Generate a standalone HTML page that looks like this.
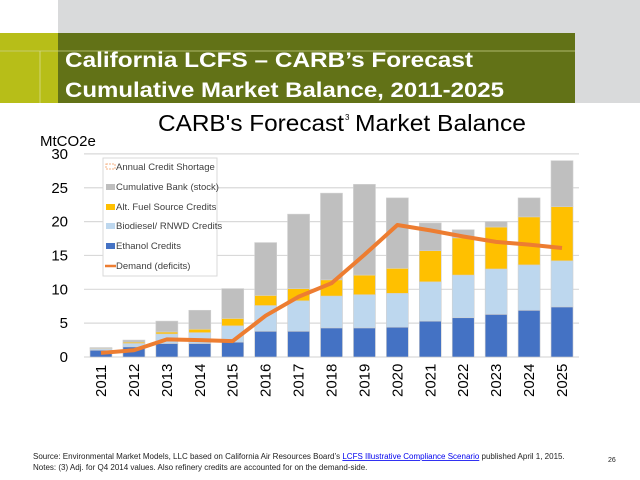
<!DOCTYPE html>
<html><head><meta charset="utf-8"><style>
html,body{margin:0;padding:0;background:#fff;}
svg{display:block;font-family:"Liberation Sans",Arial,sans-serif;}
</style></head><body>
<svg id="s" width="640" height="480" viewBox="0 0 640 480" xmlns="http://www.w3.org/2000/svg">
<rect x="58" y="0" width="582" height="33" fill="#d9dadb"/>
<rect x="575" y="33" width="65" height="70" fill="#d9dadb"/>
<rect x="0" y="33" width="58" height="70" fill="#b7be18"/>
<rect x="58" y="33" width="517" height="70" fill="#627217"/>
<line x1="0" y1="51" x2="575" y2="51" stroke="#c9d08a" stroke-width="0.8"/>
<line x1="40" y1="51" x2="40" y2="103" stroke="#d8dd90" stroke-width="0.8"/>
<text x="65" y="67" fill="#fff" font-size="21" font-weight="bold" textLength="408" lengthAdjust="spacingAndGlyphs">California LCFS –  CARB’s Forecast</text>
<text x="65" y="97" fill="#fff" font-size="21" font-weight="bold" textLength="439" lengthAdjust="spacingAndGlyphs">Cumulative Market Balance, 2011-2025</text>
<text x="158" y="131" font-size="23" fill="#000" textLength="186" lengthAdjust="spacingAndGlyphs">CARB's Forecast</text>
<text x="345" y="120" font-size="8" fill="#000">3</text>
<text x="355" y="131" font-size="23" fill="#000" textLength="171" lengthAdjust="spacingAndGlyphs">Market Balance</text>
<text x="40" y="146" font-size="15" fill="#000">MtCO2e</text>
<g id="grid"></g>
<g id="bars"></g>
<polyline id="dem" fill="none" stroke="#ed7d31" stroke-width="4" stroke-linejoin="round"/>
<g id="yl" font-size="15" fill="#000" text-anchor="end"></g>
<g id="xl" font-size="15" fill="#000"></g>
<rect x="103" y="158" width="114" height="118" fill="#fff" stroke="#d9d9d9" stroke-width="1"/>
<g font-size="9.5" fill="#404040">
<rect x="106" y="164" width="9" height="5" fill="none" stroke="#f4b183" stroke-dasharray="2,1"/>
<text x="116" y="170">Annual Credit Shortage</text>
<rect x="106" y="184" width="9" height="6" fill="#bfbfbf"/>
<text x="116" y="190">Cumulative Bank (stock)</text>
<rect x="106" y="204" width="9" height="6" fill="#ffc000"/>
<text x="116" y="210">Alt. Fuel Source Credits</text>
<rect x="106" y="223" width="9" height="6" fill="#bdd7ee"/>
<text x="116" y="229">Biodiesel/ RNWD Credits</text>
<rect x="106" y="243" width="9" height="6" fill="#4472c4"/>
<text x="116" y="249">Ethanol Credits</text>
<line x1="105" y1="266" x2="116" y2="266" stroke="#ed7d31" stroke-width="2.5"/>
<text x="116" y="269">Demand (deficits)</text>
</g>
<g font-size="8" fill="#222">
<text x="33" y="459">Source: Environmental Market Models, LLC based on California Air Resources Board’s <tspan fill="#0000ee" text-decoration="underline">LCFS Illustrative Compliance Scenario</tspan> published April 1, 2015.</text>
<text x="33" y="470">Notes: (3) Adj. for Q4 2014 values. Also refinery credits are accounted for on the demand-side.</text>
<text x="608" y="462" font-size="7">26</text>
</g>
</svg>
<script>
(function(){
var NS="http://www.w3.org/2000/svg";
function el(p,t,a,txt){var e=document.createElementNS(NS,t);for(var k in a)e.setAttribute(k,a[k]);if(txt!==undefined)e.textContent=txt;document.getElementById(p).appendChild(e);return e;}
function Y(v){return 357-v*6.77;}
for(var v=0;v<=30;v+=5){el("grid","line",{x1:84,x2:579,y1:Y(v),y2:Y(v),stroke:"#d9d9d9","stroke-width":1.2});el("yl","text",{x:68,y:Y(v)+5},String(v));}
var d=[[1.0,1.2,1.3,1.4,0.6],[1.5,2.0,2.2,2.5,1.0],[2.0,3.4,3.7,5.3,2.6],[2.0,3.6,4.1,6.9,2.5],[2.2,4.6,5.7,10.1,2.35],[3.8,7.6,9.1,16.9,6.1],[3.8,8.3,10.1,21.1,8.9],[4.3,9.0,11.4,24.2,10.9],[4.3,9.2,12.1,25.5,15.1],[4.4,9.4,13.1,23.5,19.5],[5.3,11.1,15.7,19.8,18.7],[5.8,12.1,17.6,18.8,17.8],[6.3,13.0,19.2,20.0,17.0],[6.9,13.6,20.7,23.5,16.6],[7.4,14.2,22.2,29.0,16.1]];
var cols=["#4472c4","#bdd7ee","#ffc000","#bfbfbf"];var pts=[];
for(var i=0;i<15;i++){var cx=101+i*32.93,prev=0;
for(var j=0;j<4;j++){var tv=d[i][j];el("bars","rect",{x:cx-11,y:Y(tv),width:22,height:Y(prev)-Y(tv),fill:cols[j],stroke:"#d0d0d0","stroke-width":0.6});prev=tv;}
pts.push(cx+","+Y(d[i][4]));
el("xl","text",{x:0,y:0,transform:"translate("+(cx+5)+",397) rotate(-90)"},String(2011+i));}
document.getElementById("dem").setAttribute("points",pts.join(" "));
})();
</script>
</body></html>
